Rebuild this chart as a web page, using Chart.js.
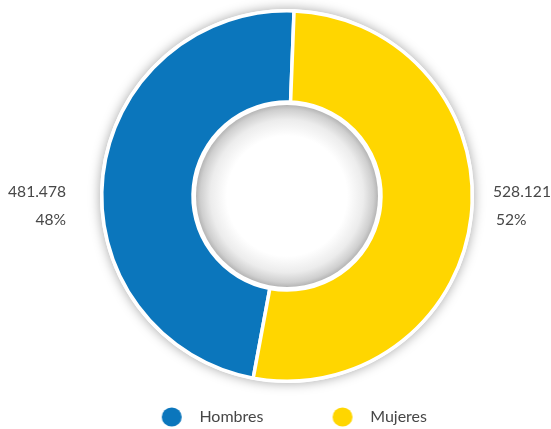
<!DOCTYPE html>
<html><head><meta charset="utf-8">
<script src="https://cdn.jsdelivr.net/npm/chart.js@4.4.1/dist/chart.umd.min.js"></script>
<style>html,body{margin:0;padding:0;background:#fff}#wrap{width:551px;height:429px;position:relative}</style>
</head><body><div id="wrap"><canvas id="c" width="551" height="429"></canvas></div>
<script>
const categories = ['Hombres', 'Mujeres'];
const values = [481478, 528121];
const sliceColors = ['#0b76bc', '#ffd600'];

const FONT = 'Lato';
const LEGEND_SIZE = 16;
const LABEL_SIZE = 15.6;
const TEXT_COLOR = '#474747';

function fmt(v){ return String(v).replace(/\B(?=(\d{3})+(?!\d))/g, '.'); }
const total = values.reduce((a,b)=>a+b,0);
const percents = values.map(v => Math.round(v/total*100) + '%');

const mc = document.createElement('canvas').getContext('2d');

const W = 551, H = 429;
const C1 = 171.7, C2 = 342.5, D = 27.7, ROWY = 417, CY = 196;
const OUTER_R = 185.25, INNER_R = 94;
const padL = 23, padR = 0;
const f = LEGEND_SIZE;
mc.font = `${f}px "${FONT}"`;
const tw1 = mc.measureText(categories[0]).width;
const tw2 = mc.measureText(categories[1]).width;
const S = (C2 - C1) - f/2 - tw1;
const A = padL + W - padR;
const B = 2*C1 + 2*D + S + tw1 + tw2 - A;
const P = S - B;
const legendBottom = ROWY + 10 + f/2;
const padBottom = H - legendBottom;
const legendTop = legendBottom - (f + P + 10);
const padTop = 2*CY - legendTop;

function marker(color){
  const off = B/2 + f/2 - D;
  const w = Math.ceil(2*(Math.abs(off) + 12));
  const h = 22;
  const cv = document.createElement('canvas');
  cv.width = w; cv.height = h;
  const g = cv.getContext('2d');
  g.fillStyle = color;
  g.beginPath();
  g.ellipse(w/2 + off, h/2, 10, 9.5, 0, 0, Math.PI*2);
  g.fill();
  return cv;
}
const markers = sliceColors.map(marker);

const ringShadow = {
  id: 'ringShadow',
  beforeDatasetsDraw(chart){
    const a = chart.getDatasetMeta(0).data[0];
    const ctx = chart.ctx;
    ctx.save();
    ctx.beginPath();
    ctx.arc(a.x, a.y, a.outerRadius + 1.75, 0, Math.PI*2);
    ctx.shadowColor = 'rgba(0,0,0,0.35)';
    ctx.shadowBlur = 12;
    ctx.fillStyle = '#fff';
    ctx.fill();
    ctx.restore();
  },
  afterDatasetsDraw(chart){
    const a = chart.getDatasetMeta(0).data[0];
    const ctx = chart.ctx;
    const r = a.innerRadius - 3;
    ctx.save();
    const g = ctx.createRadialGradient(a.x, a.y, 0, a.x, a.y, r);
    g.addColorStop(0, '#ffffff');
    g.addColorStop(0.66, '#ffffff');
    g.addColorStop(0.84, '#ececec');
    g.addColorStop(0.95, '#cfcfcf');
    g.addColorStop(1, '#b5b5b5');
    ctx.beginPath();
    ctx.arc(a.x, a.y, r, 0, Math.PI*2);
    ctx.fillStyle = g;
    ctx.fill();
    // side labels
    ctx.fillStyle = TEXT_COLOR;
    ctx.font = `${LABEL_SIZE}px "${FONT}"`;
    ctx.textBaseline = 'alphabetic';
    ctx.textAlign = 'right';
    ctx.fillText(fmt(values[0]), a.x - 221, a.y + 1);
    ctx.fillText(percents[0], a.x - 221, a.y + 28.5);
    ctx.textAlign = 'left';
    ctx.fillText(fmt(values[1]), a.x + 206, a.y + 1);
    ctx.fillText(percents[1], a.x + 209, a.y + 28.5);
    ctx.restore();
  }
};

new Chart(document.getElementById('c'), {
  type: 'doughnut',
  data: {
    labels: categories,
    datasets: [{
      data: values,
      backgroundColor: sliceColors,
      borderColor: '#ffffff',
      borderWidth: 3.5,
      hoverOffset: 0
    }]
  },
  options: {
    responsive: false,
    animation: false,
    radius: OUTER_R,
    cutout: (INNER_R / OUTER_R * 100) + '%',
    rotation: 190.5,
    layout: { padding: { left: padL, right: padR, top: padTop, bottom: padBottom } },
    plugins: {
      tooltip: { enabled: false },
      legend: {
        position: 'bottom',
        labels: {
          usePointStyle: true,
          pointStyleWidth: B,
          padding: P,
          color: TEXT_COLOR,
          font: { family: FONT, size: f },
          generateLabels(chart){
            return chart.data.labels.map((l, i) => ({
              text: l,
              fillStyle: sliceColors[i],
              strokeStyle: sliceColors[i],
              lineWidth: 0,
              pointStyle: markers[i],
              hidden: false,
              index: i,
              fontColor: TEXT_COLOR
            }));
          }
        }
      }
    }
  },
  plugins: [ringShadow]
});
</script>
</body></html>
